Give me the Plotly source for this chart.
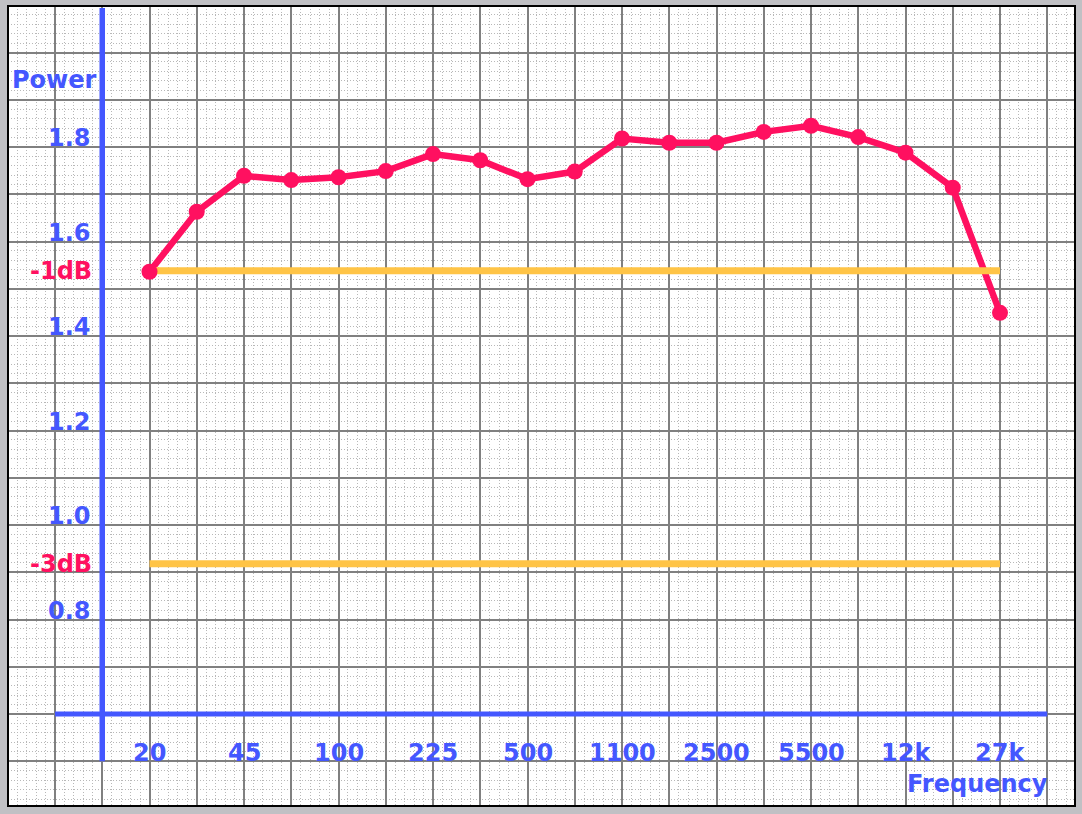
import plotly.graph_objects as go

# ---- data ----
freq_tick_labels = ["20", "45", "100", "225", "500", "1100", "2500", "5500", "12k", "27k"]
freq_tick_steps = [0, 2, 4, 6, 8, 10, 12, 14, 16, 18]
steps = list(range(19))
power = [1.536, 1.663, 1.739, 1.730, 1.736, 1.749, 1.785, 1.772, 1.732, 1.748,
         1.818, 1.809, 1.809, 1.832, 1.845, 1.821, 1.788, 1.714, 1.449]
db_labels = ["-1dB", "-3dB"]
db_values = [1.538, 0.918]
y_tick_values = [1.8, 1.6, 1.4, 1.2, 1.0, 0.8]
y_tick_labels = ["1.8", "1.6", "1.4", "1.2", "1.0", "0.8"]

BLUE = "#4457ff"
PINK = "#ff1060"
ORANGE = "#ffc446"
FONT = "DejaVu Sans"

fig = go.Figure()

# red line (under orange), then orange levels, then markers
fig.add_trace(go.Scatter(x=steps, y=power, mode="lines",
                         line=dict(color=PINK, width=6.5), hoverinfo="skip"))
for v in db_values:
    fig.add_trace(go.Scatter(x=[steps[0], steps[-1]], y=[v, v], mode="lines",
                             line=dict(color=ORANGE, width=7), hoverinfo="skip"))
fig.add_trace(go.Scatter(x=steps, y=power, mode="markers",
                         marker=dict(color=PINK, size=16, line=dict(width=0)), hoverinfo="skip"))

# blue axes
fig.add_shape(type="line", x0=-1, x1=-1, y0=0.5, y1=2.094, xref="x", yref="y",
              line=dict(color=BLUE, width=5.5), layer="between")
fig.add_shape(type="line", x0=-2, x1=19, y0=0.6, y1=0.6, xref="x", yref="y",
              line=dict(color=BLUE, width=5), layer="between")
# page border
fig.add_shape(type="rect", x0=0, x1=1, y0=0, y1=1, xref="paper", yref="paper",
              line=dict(color="black", width=2), layer="above")

FS = 24
anns = []
for v, t in zip(y_tick_values, y_tick_labels):
    anns.append(dict(x=-1.2, y=v, text=t, xanchor="right", yanchor="middle", yshift=9,
                     showarrow=False, font=dict(family=FONT, size=FS, color=BLUE, weight="bold")))
for v, t in zip(db_values, db_labels):
    anns.append(dict(x=-1.17, y=v, text=t, xanchor="right", yanchor="middle",
                     showarrow=False, font=dict(family=FONT, size=FS, color=PINK, weight="bold")))
for s, t in zip(freq_tick_steps, freq_tick_labels):
    anns.append(dict(x=s, y=0.5, text=t, xanchor="center", yanchor="middle", yshift=8,
                     showarrow=False, font=dict(family=FONT, size=FS, color=BLUE, weight="bold")))
anns.append(dict(x=-1.06, y=1.942, text="Power", xanchor="right", yanchor="middle",
                 showarrow=False, font=dict(family=FONT, size=FS, color=BLUE, weight="bold")))
anns.append(dict(x=19.06, y=0.452, text="Frequency", xanchor="right", yanchor="middle",
                 showarrow=False, font=dict(family=FONT, size=FS, color=BLUE, weight="bold")))

fig.update_layout(
    width=1082, height=814,
    margin=dict(l=8, r=7, t=6, b=8, pad=0),
    paper_bgcolor="#c0c0c4",
    plot_bgcolor="white",
    showlegend=False,
    annotations=anns,
    xaxis=dict(range=[-2.9947, 19.5873], tick0=0, dtick=1, showticklabels=False,
               ticks="", zeroline=False, showline=False,
               gridcolor="#808080", gridwidth=1.5,
               minor=dict(tick0=0, dtick=0.2, showgrid=True, gridcolor="#b8b8b8",
                          gridwidth=1, griddash="1px,2px")),
    yaxis=dict(range=[0.40529, 2.09841], tick0=0.6, dtick=0.1, showticklabels=False,
               ticks="", zeroline=False, showline=False,
               gridcolor="#808080", gridwidth=1.5,
               minor=dict(tick0=0.6, dtick=0.02, showgrid=True, gridcolor="#b8b8b8",
                          gridwidth=1, griddash="1px,2px")),
)

fig.write_html("out.html",
               config={"displayModeBar": False},
               post_script="document.body.style.margin='0px';"
                           "document.body.style.background='#c0c0c4';")
